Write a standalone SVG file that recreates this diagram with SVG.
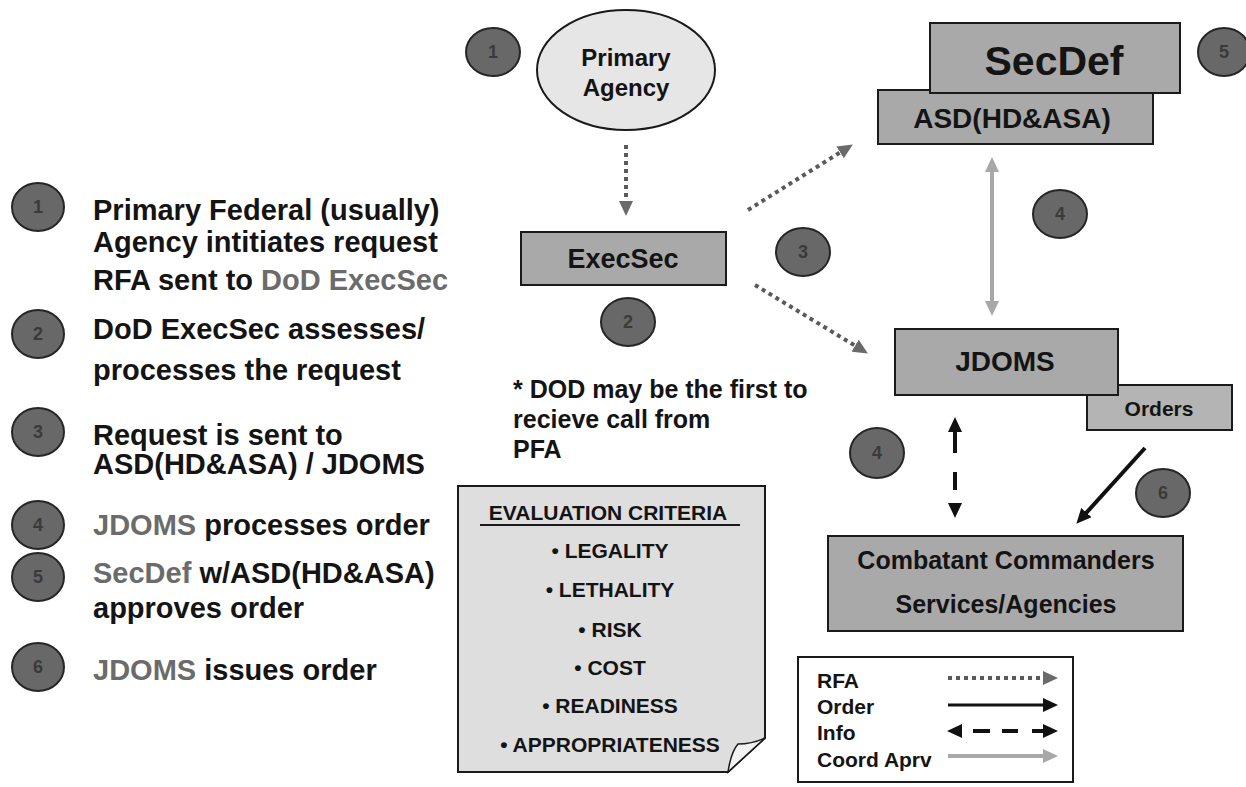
<svg xmlns="http://www.w3.org/2000/svg" width="1246" height="787" viewBox="0 0 1246 787">
<style>
text{font-family:"Liberation Sans",Arial,Helvetica,sans-serif;font-weight:bold;fill:#141414}
.box{fill:#a9a9a9;stroke:#1a1a1a;stroke-width:2}
.num{fill:#686868;stroke:#262626;stroke-width:2}
.numt{font-size:18px;fill:#3a3a3a;text-anchor:middle}
.gray{fill:#6b6b6b}
.c{text-anchor:middle}
.list{font-size:29px}
.rfa{stroke:#5a5a5a;stroke-width:4;stroke-dasharray:4 4;fill:none}
.ord{stroke:#111;stroke-width:4;fill:none}
.info{stroke:#111;stroke-width:4;fill:none}
.coord{stroke:#a8a8a8;stroke-width:4;fill:none}
</style>
<defs>
<marker id="hRfa" markerUnits="userSpaceOnUse" markerWidth="16" markerHeight="14" refX="6" refY="7" orient="auto-start-reverse" viewBox="0 0 16 14"><path d="M0,0 L15,7 L0,14 Z" fill="#6a6a6a"/></marker>
<marker id="hBlk" markerUnits="userSpaceOnUse" markerWidth="16" markerHeight="14" refX="6" refY="7" orient="auto-start-reverse" viewBox="0 0 16 14"><path d="M0,0 L15,7 L0,14 Z" fill="#111"/></marker>
<marker id="hGray" markerUnits="userSpaceOnUse" markerWidth="16" markerHeight="14" refX="6" refY="7" orient="auto-start-reverse" viewBox="0 0 16 14"><path d="M0,0 L15,7 L0,14 Z" fill="#a8a8a8"/></marker>
</defs>
<rect width="1246" height="787" fill="#fff"/>

<!-- left list -->
<g id="list">
<g id="step1"><ellipse class="num" cx="38" cy="207" rx="26" ry="24"/><text class="numt" x="38" y="213">1</text>
<text class="list" x="93" y="220">Primary Federal (usually)</text>
<text class="list" x="93" y="252">Agency intitiates request</text>
<text class="list" x="93" y="290">RFA sent to <tspan class="gray">DoD ExecSec</tspan></text></g>
<g id="step2"><ellipse class="num" cx="38" cy="334" rx="26" ry="24"/><text class="numt" x="38" y="340">2</text>
<text class="list" x="93" y="339">DoD ExecSec assesses/</text>
<text class="list" x="93" y="380">processes the request</text></g>
<g id="step3"><ellipse class="num" cx="38" cy="432" rx="26" ry="24"/><text class="numt" x="38" y="438">3</text>
<text class="list" x="93" y="445">Request is sent to</text>
<text class="list" x="93" y="474">ASD(HD&amp;ASA) / JDOMS</text></g>
<g id="step4"><ellipse class="num" cx="38" cy="525" rx="26" ry="24"/><text class="numt" x="38" y="531">4</text>
<text class="list" x="93" y="535"><tspan class="gray">JDOMS</tspan> processes order</text></g>
<g id="step5"><ellipse class="num" cx="38" cy="577" rx="26" ry="24"/><text class="numt" x="38" y="583">5</text>
<text class="list" x="93" y="583"><tspan class="gray">SecDef</tspan> w/ASD(HD&amp;ASA)</text>
<text class="list" x="93" y="618">approves order</text></g>
<g id="step6"><ellipse class="num" cx="38" cy="667" rx="26" ry="24"/><text class="numt" x="38" y="673">6</text>
<text class="list" x="93" y="680"><tspan class="gray">JDOMS</tspan> issues order</text></g>
</g>

<!-- connectors -->
<g id="connectors">
<line class="rfa" x1="626" y1="145" x2="626" y2="207" marker-end="url(#hRfa)"/>
<line class="rfa" x1="748" y1="210" x2="845.2" y2="149.2" marker-end="url(#hRfa)"/>
<line class="rfa" x1="755" y1="285" x2="860.2" y2="348.8" marker-end="url(#hRfa)"/>
<line class="coord" x1="992" y1="166" x2="992" y2="307" marker-start="url(#hGray)" marker-end="url(#hGray)"/>
<line class="info" x1="955" y1="426" x2="955" y2="509" stroke-dasharray="27 19 18 19" marker-start="url(#hBlk)" marker-end="url(#hBlk)"/>
<line class="ord" x1="1145" y1="448" x2="1082.4" y2="517.1" marker-end="url(#hBlk)"/>
</g>

<!-- nodes -->
<g id="primary-agency">
<ellipse cx="626" cy="70" rx="89" ry="60" fill="#e6e6e6" stroke="#1a1a1a" stroke-width="2"/>
<text class="c" x="626" y="66" font-size="24">Primary</text>
<text class="c" x="626" y="96" font-size="24">Agency</text>
</g>
<g id="badge1"><ellipse class="num" cx="493" cy="52" rx="27" ry="24"/><text class="numt" x="493" y="58">1</text></g>

<g id="execsec">
<rect class="box" x="521" y="232" width="205" height="53"/>
<text class="c" x="623" y="268" font-size="27">ExecSec</text>
</g>
<g id="badge2"><ellipse class="num" cx="628" cy="322" rx="27" ry="24"/><text class="numt" x="628" y="328">2</text></g>
<g id="badge3"><ellipse class="num" cx="803" cy="252" rx="27" ry="24"/><text class="numt" x="803" y="258">3</text></g>

<g id="note">
<text x="513" y="398" font-size="25">* DOD may be the first to</text>
<text x="513" y="428" font-size="25">recieve call from</text>
<text x="513" y="458" font-size="25">PFA</text>
</g>

<g id="asd">
<rect class="box" x="878" y="90" width="275" height="54"/>
<text class="c" x="1012" y="128" font-size="28">ASD(HD&amp;ASA)</text>
</g>
<g id="secdef">
<rect class="box" x="930" y="23" width="250" height="70"/>
<text class="c" x="1054" y="75" font-size="41">SecDef</text>
</g>
<g id="badge5"><ellipse class="num" cx="1224" cy="52" rx="26" ry="24"/><text class="numt" x="1224" y="58">5</text></g>
<g id="badge4a"><ellipse class="num" cx="1060" cy="214" rx="27" ry="24"/><text class="numt" x="1060" y="220">4</text></g>

<g id="orders">
<rect class="box" x="1087" y="385" width="145" height="45" style="fill:#b4b4b4"/>
<text class="c" x="1159" y="416" font-size="21">Orders</text>
</g>
<g id="jdoms">
<rect class="box" x="895" y="329" width="223" height="66"/>
<text class="c" x="1005" y="371" font-size="28">JDOMS</text>
</g>
<g id="badge4b"><ellipse class="num" cx="877" cy="453" rx="27" ry="25"/><text class="numt" x="877" y="459">4</text></g>
<g id="badge6"><ellipse class="num" cx="1163" cy="493" rx="27" ry="24"/><text class="numt" x="1163" y="499">6</text></g>

<g id="combatant">
<rect class="box" x="828" y="536" width="355" height="95"/>
<text class="c" x="1006" y="569" font-size="25">Combatant Commanders</text>
<text class="c" x="1006" y="613" font-size="25">Services/Agencies</text>
</g>

<g id="evaluation">
<path d="M458,486 H765 V738 L728,772 H458 Z" fill="#dedede" stroke="#1a1a1a" stroke-width="2"/>
<path d="M728,772 Q731,752 738,744 Q752,744 765,738 Z" fill="#f2f2f2" stroke="#1a1a1a" stroke-width="1.5"/>
<text class="c" x="608" y="520" font-size="21">EVALUATION CRITERIA</text>
<line x1="480" y1="525" x2="740" y2="525" stroke="#1a1a1a" stroke-width="2"/>
<text class="c" x="610" y="558" font-size="21">• LEGALITY</text>
<text class="c" x="610" y="597" font-size="21">• LETHALITY</text>
<text class="c" x="610" y="637" font-size="21">• RISK</text>
<text class="c" x="610" y="675" font-size="21">• COST</text>
<text class="c" x="610" y="713" font-size="21">• READINESS</text>
<text class="c" x="610" y="752" font-size="21">• APPROPRIATENESS</text>
</g>

<g id="legend">
<rect x="798" y="657" width="275" height="125" fill="#fff" stroke="#1a1a1a" stroke-width="2"/>
<text x="817" y="688" font-size="21">RFA</text>
<text x="817" y="714" font-size="21">Order</text>
<text x="817" y="740" font-size="21">Info</text>
<text x="817" y="767" font-size="21">Coord Aprv</text>
<line class="rfa" x1="948" y1="678" x2="1049" y2="678" marker-end="url(#hRfa)"/>
<line x1="948" y1="705" x2="1049" y2="705" stroke="#111" stroke-width="3" marker-end="url(#hBlk)"/>
<line x1="956" y1="731" x2="1049" y2="731" stroke="#111" stroke-width="4" stroke-dasharray="6 11 17 12 16 14 17" marker-start="url(#hBlk)" marker-end="url(#hBlk)"/>
<line class="coord" x1="948" y1="756" x2="1049" y2="756" marker-end="url(#hGray)"/>
</g>
</svg>
